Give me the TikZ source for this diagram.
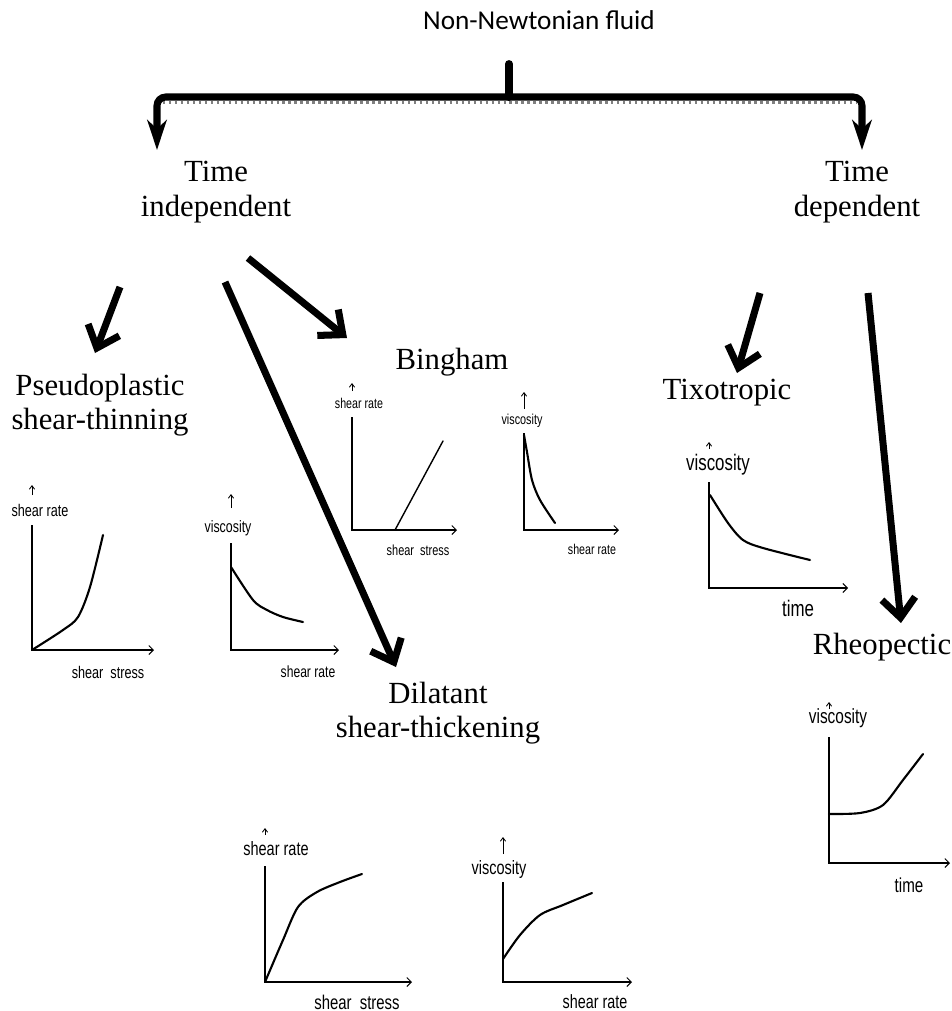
\documentclass[tikz,border=0pt]{standalone}
\usepackage{fontspec}
\setmainfont{Liberation Serif}
\newfontfamily\titlefont{Carlito}
\newfontfamily\axfont[FakeStretch=0.75]{Liberation Sans}
\usetikzlibrary{arrows.meta}

\tikzset{
  kind/.style={align=center, inner sep=0pt, font=\fontsize{17.5}{19.5}\selectfont},
  axlabel/.style={inner sep=0pt, font=\axfont\fontsize{#1}{#1}\selectfont},
  bigarrow/.style={line width=4pt, -{Straight Barb[length=11pt,width=19pt]}},
  brace/.style={line width=4pt, rounded corners=5, -{Stealth[length=17pt,width=11pt,inset=5pt]}},
  axis/.style={line width=0.6pt, -{Straight Barb[length=2.5pt,width=5pt]}},
  yarrow/.style={line width=0.5pt, -{Straight Barb[length=2pt,width=3pt]}},
  curve/.style={line width=1.2pt, line cap=round},
}

\begin{document}
\begin{tikzpicture}[x=0.02cm, y=-0.02cm]
\useasboundingbox (0,0) rectangle (951,1011);

\draw (539,20) node (title) [inner sep=0pt, font=\titlefont\fontsize{15.5}{18}\selectfont] {Non-Newtonian fluid};

\draw (216,192) node (indep) [kind] {Time\\independent};
\draw (857,192) node (dep) [kind] {Time\\dependent};

\coordinate (root) at (509,64);
\coordinate (junction) at (509,97);
\coordinate (indeptip) at (157,150);
\coordinate (deptip) at (862,150);

\draw [gray, line width=1.4pt, dotted] (163,102.5) -- (857,102.5);
\draw [line width=4.5pt, line cap=round] (root) -- (junction);
\fill (504,97) -- (514,97) -- (511,88) -- (507,88) -- cycle;
\draw [brace] (junction) -| (indeptip);
\draw [brace] (junction) -| (deptip);

\draw (100,405) node (pseudo) [kind] {Pseudoplastic\\shear-thinning};
\draw (452,362) node (bingham) [kind] {Bingham};
\draw (438,713) node (dilat) [kind] {Dilatant\\shear-thickening};
\draw (727,393) node (tixo) [kind] {Tixotropic};
\draw (882,647) node (rheo) [kind] {Rheopectic};

\coordinate (pseudofrom) at (120,287);
\coordinate (pseudotip) at (95,353);
\coordinate (binghamfrom) at (248,258);
\coordinate (binghamtip) at (347,338);
\coordinate (dilatfrom) at (225,282);
\coordinate (dilattip) at (396,667);
\coordinate (tixofrom) at (760,293);
\coordinate (tixotip) at (737,373);
\coordinate (rheofrom) at (868,293);
\coordinate (rheotip) at (901,623);

\draw [bigarrow] (pseudofrom) -- (pseudotip);
\draw [bigarrow] (binghamfrom) -- (binghamtip);
\draw [bigarrow] (dilatfrom) -- (dilattip);
\draw [bigarrow] (tixofrom) -- (tixotip);
\draw [bigarrow] (rheofrom) -- (rheotip);

% pseudoplastic: shear rate / shear stress
\draw [axis] (32,525) -- (32,650) -- (154,650);
\draw [yarrow] (32,495) -- (32,485);
\draw (40,510) node (pAy) [axlabel=9.6] {shear rate};
\draw (108,672) node (pAx) [axlabel=9.6] {shear\ \ stress};
\draw [curve] plot [smooth] coordinates {(32,650) (63,630) (78,617) (90,587) (103,535)};

% pseudoplastic: viscosity / shear rate
\draw [axis] (231,543) -- (231,650) -- (339,650);
\draw [yarrow] (231,508) -- (231,494);
\draw (228,528) node (pBy) [axlabel=9.4] {viscosity};
\draw (308,672) node (pBx) [axlabel=9.2] {shear rate};
\draw [curve] plot [smooth] coordinates {(231,567) (253,600) (267,610) (283,617) (303,622)};

% bingham: shear rate / shear stress
\draw [axis] (352,417) -- (352,530) -- (457,530);
\draw [yarrow] (352,391) -- (352,383);
\draw (359,403) node (pCy) [axlabel=8.1] {shear rate};
\draw (418,550) node (pCx) [axlabel=8.3] {shear\ \ stress};
\draw [curve, line width=0.8pt] (395,530) -- (443,441);

% bingham: viscosity / shear rate
\draw [axis] (524,433) -- (524,530) -- (619,530);
\draw [yarrow] (524,409) -- (524,392);
\draw (522,421) node (pDy) [axlabel=8.2] {viscosity};
\draw (592,549) node (pDx) [axlabel=8.1] {shear rate};
\draw [curve] plot [smooth] coordinates {(524,435) (527,452) (532,480) (540,500) (555,523)};

% tixotropic: viscosity / time
\draw [axis] (709,482) -- (709,588) -- (848,588);
\draw [yarrow] (709,449) -- (709,442);
\draw (718,465) node (pEy) [axlabel=12.8] {viscosity};
\draw (798,608) node (pEx) [axlabel=12.8] {time};
\draw [curve] plot [smooth] coordinates {(710,495) (728,523) (743,540) (763,548) (810,560)};

% rheopectic: viscosity / time
\draw [axis] (829,737) -- (829,863) -- (950,863);
\draw [yarrow] (829,709) -- (829,702);
\draw (838,718) node (pFy) [axlabel=11.7] {viscosity};
\draw (909,885) node (pFx) [axlabel=11.5] {time};
\draw [curve] plot [smooth] coordinates {(829,814) (860,813) (883,805) (903,780) (923,754)};

% dilatant: shear rate / shear stress
\draw [axis] (265,866) -- (265,982) -- (412,982);
\draw [yarrow] (265,835) -- (265,828);
\draw (276,849) node (pGy) [axlabel=11] {shear rate};
\draw (357,1002) node (pGx) [axlabel=11.3] {shear\ \ stress};
\draw [curve] plot [smooth] coordinates {(265,982) (283,940) (298,907) (317,892) (340,882) (362,874)};

% dilatant: viscosity / shear rate
\draw [axis] (503,882) -- (503,982) -- (632,982);
\draw [yarrow] (503,854) -- (503,837);
\draw (499,869) node (pHy) [axlabel=11] {viscosity};
\draw (595,1002) node (pHx) [axlabel=10.9] {shear rate};
\draw [curve] plot [smooth] coordinates {(503,959) (520,935) (540,915) (563,905) (592,893)};

\end{tikzpicture}
\end{document}
